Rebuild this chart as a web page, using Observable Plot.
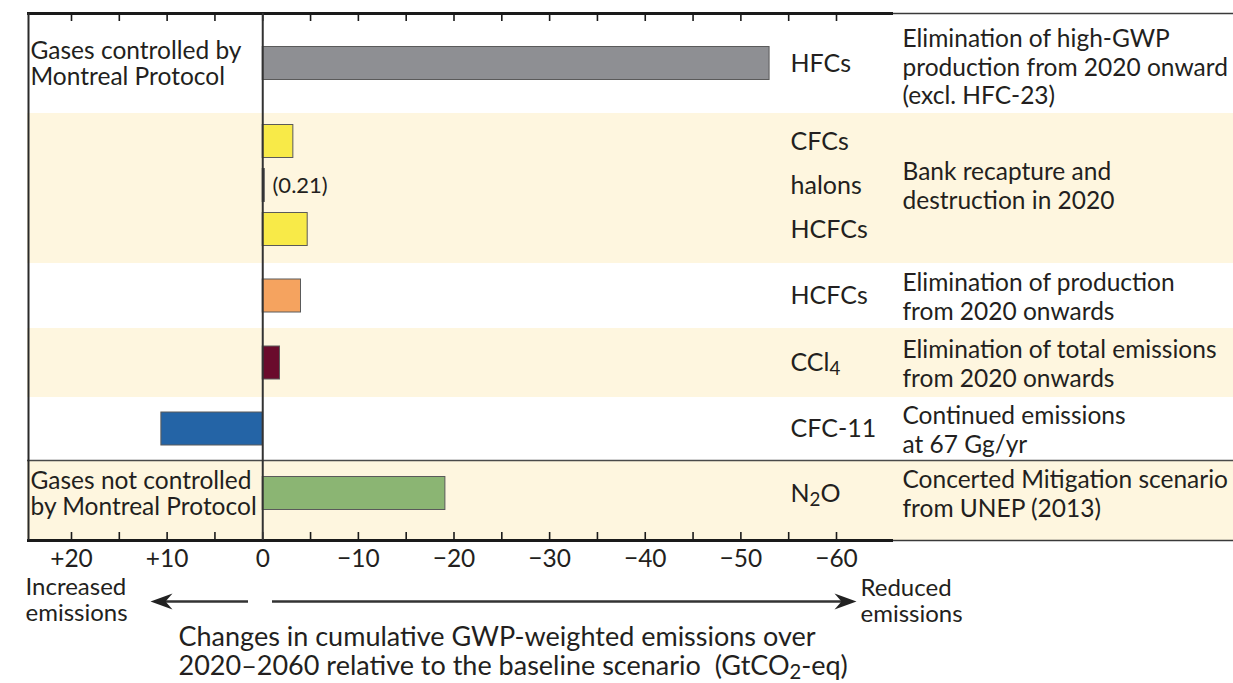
<!DOCTYPE html>
<html><head><meta charset="utf-8">
<script src="https://cdn.jsdelivr.net/npm/d3@7"></script>
<script src="https://cdn.jsdelivr.net/npm/@observablehq/plot@0.6"></script>
<style>body{margin:0;background:#fff} svg{display:block}</style>
</head><body><div id="chart"></div>
<script>
// ---- data ----
const gases = ["HFCs", "CFCs", "halons", "HCFCs", "HCFCs", "CCl₄", "CFC-11", "N₂O"];
const values = [-53, -3.2, -0.21, -4.7, -4.0, -1.8, 10.6, -19.1];
const gasGroup = [0, 1, 1, 1, 2, 3, 4, 5];
const measures = [
  "Elimination of high-GWP\nproduction from 2020 onward\n(excl. HFC-23)",
  "Bank recapture and\ndestruction in 2020",
  "Elimination of production\nfrom 2020 onwards",
  "Elimination of total emissions\nfrom 2020 onwards",
  "Continued emissions\nat 67 Gg/yr",
  "Concerted Mitigation scenario\nfrom UNEP (2013)"
];
const categories = ["Gases controlled by\nMontreal Protocol", "Gases not controlled\nby Montreal Protocol"];
const categoryGroup = [0, 5];
const tickValues = [20, 10, 0, -10, -20, -30, -40, -50, -60];
const tickLabels = ["+20", "+10", "0", "−10", "−20", "−30", "−40", "−50", "−60"];
const minorTicks = [20, 15, 10, 5, 0, -5, -10, -15, -20, -25, -30, -35, -40, -45, -50, -55, -60];
const valueNote = "(0.21)";
const leftNote = "Increased\nemissions";
const rightNote = "Reduced\nemissions";
const axisTitle = "Changes in cumulative GWP-weighted emissions over\n2020–2060 relative to the baseline scenario  (GtCO₂-eq)";

// ---- styles / layout ----
const FONT = "Lato, 'Open Sans', sans-serif";
const INK = "#231f20";
const BEIGE = "#fef6df";
const barFill = ["#8e8f93", "#f8ea48", "#3a3a3a", "#f8ea48", "#f5a35f", "#6a0b2c", "#2464a6", "#8bb573"];
const beigeGroups = [1, 3, 5];
const W = 1233, H = 683, MT = 13, MB = 143, ML = 27;
const FH = H - MT - MB;
const xs = d3.scaleLinear([20, -60], [71, 836]);
const spans = [100, 150, 65, 69, 63, 80];
const shift = [0, -3, 0, 0, 0, -7];
const starts = [];
spans.reduce((a, s, i) => (starts[i] = a, a + s), 0);
const centers = spans.map((s, i) => starts[i] + s / 2 + shift[i]);
const PITCH = 44, BAR = 33;

const rows = gases.map((g, i) => {
  const grp = gasGroup[i];
  const members = gasGroup.map((v, j) => j).filter(j => gasGroup[j] === grp);
  const k = members.indexOf(i);
  const yc = centers[grp] + (k - (members.length - 1) / 2) * PITCH;
  return {gas: g, value: values[i], yc, fill: barFill[i]};
});
const groups = measures.map((m, i) => ({desc: m, y1: starts[i], y2: starts[i] + spans[i], yc: centers[i] + (i === 0 ? 3 : 0), beige: beigeGroups.includes(i)}));

const arrowLeft = {draw(c) { c.moveTo(0, 0); c.lineTo(22, -8); c.lineTo(15, 0); c.lineTo(22, 8); c.closePath(); }};
const arrowRight = {draw(c) { c.moveTo(0, 0); c.lineTo(-22, -8); c.lineTo(-15, 0); c.lineTo(-22, 8); c.closePath(); }};

const chart = Plot.plot({
  width: W, height: H,
  marginTop: MT, marginBottom: MB, marginLeft: ML, marginRight: 0,
  style: {fontFamily: FONT, background: "#fff"},
  x: {domain: [20, -60], range: [71, 836], axis: null},
  y: {type: "linear", domain: [0, FH], range: [MT, H - MB], axis: null},
  marks: [
    Plot.rect(groups.filter(d => d.beige), {y1: "y1", y2: "y2", fill: BEIGE}),
    Plot.ruleY([starts[5]], {stroke: "#4a4a4a", strokeWidth: 1.6}),
    Plot.ruleY([0, FH], {stroke: "#3a3a3a", strokeWidth: 1.3}),
    Plot.ruleY([0, FH], {x1: xs.invert(27), x2: xs.invert(893), stroke: "#1a1a1a", strokeWidth: 3}),
    Plot.ruleX([xs.invert(28)], {stroke: "#2a2a2a", strokeWidth: 2}),
    Plot.tickX(minorTicks, {x: d => d, insetTop: FH - 8, stroke: "#1a1a1a", strokeWidth: 1.6}),
    Plot.tickX(minorTicks, {x: d => d, insetBottom: FH - 8, stroke: "#1a1a1a", strokeWidth: 1.6}),
    Plot.rect(rows, {x1: 0, x2: "value", y1: d => d.yc - BAR / 2, y2: d => d.yc + BAR / 2, fill: "fill", stroke: "#5a5a5a", strokeWidth: 1}),
    Plot.ruleX([0], {stroke: "#333", strokeWidth: 2}),
    Plot.text(rows, {x: xs.invert(790), y: "yc", text: "gas", textAnchor: "start", fontSize: 25, fill: INK}),
    Plot.text(groups, {x: xs.invert(902), y: "yc", text: "desc", textAnchor: "start", fontSize: 24.5, lineHeight: 1.17, fill: INK}),
    Plot.text(categories, {x: xs.invert(30), y: (d, i) => centers[categoryGroup[i]], text: d => d, textAnchor: "start", fontSize: 24.5, lineHeight: 1.07, fill: INK}),
    Plot.text([valueNote], {x: xs.invert(272), y: rows[2].yc, text: d => d, textAnchor: "start", fontSize: 22, fill: INK}),
    Plot.text(tickValues, {x: d => d, y: FH, dy: 19, text: (d, i) => tickLabels[i], fontSize: 24.5, fill: INK}),
    Plot.text([leftNote], {x: xs.invert(25), y: FH, dy: 59, text: d => d, textAnchor: "start", fontSize: 24, lineHeight: 1.07, fill: INK}),
    Plot.text([rightNote], {x: xs.invert(860), y: FH, dy: 60, text: d => d, textAnchor: "start", fontSize: 24, lineHeight: 1.07, fill: INK}),
    Plot.ruleY([FH], {x1: xs.invert(248), x2: xs.invert(162), dy: 61, stroke: "#333", strokeWidth: 2.5}),
    Plot.ruleY([FH], {x1: xs.invert(272), x2: xs.invert(843), dy: 61, stroke: "#333", strokeWidth: 2.5}),
    Plot.dot([0], {x: xs.invert(150), y: FH, dy: 61, symbol: arrowLeft, r: 5, fill: "#222", stroke: "none"}),
    Plot.dot([0], {x: xs.invert(856), y: FH, dy: 61, symbol: arrowRight, r: 5, fill: "#222", stroke: "none"}),
    Plot.text([axisTitle], {x: xs.invert(178), y: FH, dy: 111, text: d => d, textAnchor: "start", fontSize: 27, lineHeight: 1.08, fill: INK})
  ]
});

// render subscripts as real text tspans
const NS = "http://www.w3.org/2000/svg";
const subMap = {"₂": "2", "₄": "4"};
chart.querySelectorAll("text, tspan").forEach(el => {
  if (el.children.length) return;
  const s = el.textContent;
  if (!/[₂₄]/.test(s)) return;
  el.textContent = "";
  for (const part of s.split(/([₂₄])/)) {
    if (!part) continue;
    if (subMap[part]) {
      const t = document.createElementNS(NS, "tspan");
      t.setAttribute("baseline-shift", "-22%");
      t.setAttribute("font-size", "75%");
      t.textContent = subMap[part];
      el.appendChild(t);
    } else {
      el.appendChild(document.createTextNode(part));
    }
  }
});
chart.style.whiteSpace = "pre";
document.getElementById("chart").appendChild(chart);
</script>
</body></html>
